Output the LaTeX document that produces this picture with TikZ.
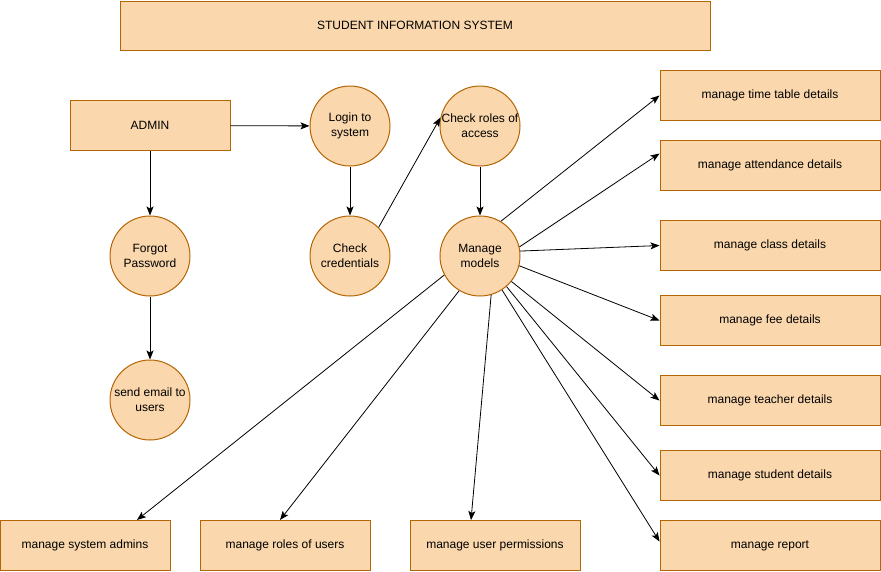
\documentclass[tikz,border=0pt]{standalone}
\usepackage{fontspec}
\setmainfont{Liberation Sans}
\usetikzlibrary{arrows.meta}

\definecolor{boxfill}{HTML}{FAD7AC}
\definecolor{boxline}{HTML}{B46504}

\tikzset{
  txt/.style={font=\fontsize{12}{15}\selectfont},
  box/.style={txt, draw=boxline, fill=boxfill, line width=1pt, inner sep=0pt,
    minimum width=#1, minimum height=50pt},
  box/.default=220pt,
  proc/.style={txt, circle, draw=boxline, fill=boxfill, line width=1pt,
    inner sep=-2pt, minimum size=80pt, align=center},
  flow/.style={-{Stealth[length=9pt,width=7pt,inset=2pt]}, line width=0.8pt}
}

\begin{document}
\begin{tikzpicture}[x=1pt,y=1pt]
\useasboundingbox (0,0) rectangle (881,-571);

\node[box=590pt, minimum height=49pt] (title) at (415,-25.5) {STUDENT INFORMATION SYSTEM};
\node[box=160pt] (admin) at (150,-125.5) {ADMIN};

\node[proc] (login) at (350,-126) {Login to\\system};
\node[proc] (roles) at (480,-126) {Check roles of\\access};
\node[proc] (forgot) at (150,-256) {Forgot\\Password};
\node[proc] (cred) at (350,-256) {Check\\credentials};
\node[proc] (models) at (480,-256) {Manage\\models};
\node[proc] (email) at (150,-400) {send email to\\users};

% right column
\foreach \nm/\yy/\lbl in {time/95.5/manage time table details,
    att/165.5/manage attendance details, cls/245.5/manage class details,
    fee/320.5/manage fee details, tch/400.5/manage teacher details,
    std/475.5/manage student details, rpt/545.5/manage report}
  \node[box] (\nm) at (770,-\yy) {\lbl};

% bottom row
\node[box=170pt] (sysadm) at (85,-545.5) {manage system admins};
\node[box=170pt] (usrrole) at (285,-545.5) {manage roles of users};
\node[box=170pt] (usrperm) at (495,-545.5) {manage user permissions};

\draw[flow] (admin) -- (login);
\draw[flow] (admin) -- (forgot);
\draw[flow] (forgot) -- (email);
\draw[flow] (login) -- (cred);
\draw[flow] (cred.45) -- (roles.168);
\draw[flow] (roles) -- (models);

\foreach \nm/\ang/\dy in {time/59/0, att/13/12, cls/7/0, fee/-14/0,
    tch/-39/0, std/-49/0, rpt/-57/4}
  \draw[flow] (models.\ang) -- ([yshift=\dy pt]\nm.west);

\draw[flow] (models.208) -- ([xshift=52pt]sysadm.north);
\draw[flow] (models.-121) -- ([xshift=-5pt]usrrole.north);
\draw[flow] (models.-74) -- ([xshift=-24pt]usrperm.north);
\end{tikzpicture}
\end{document}
